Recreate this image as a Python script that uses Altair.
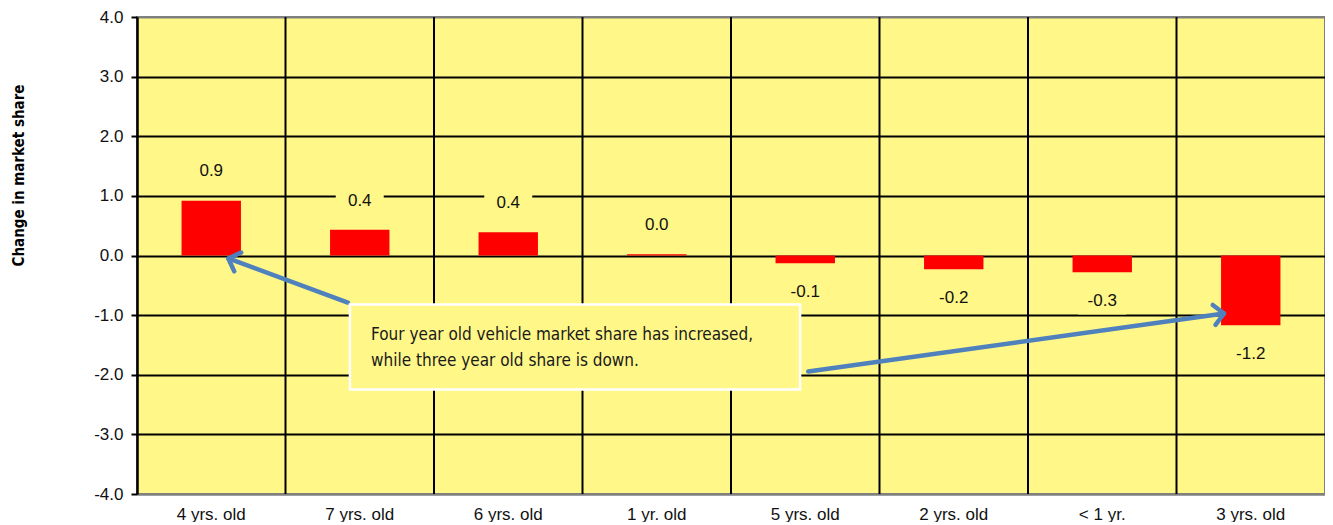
import altair as alt
import pandas as pd

# ---- data ----
categories = ["4 yrs. old", "7 yrs. old", "6 yrs. old", "1 yr. old",
              "5 yrs. old", "2 yrs. old", "< 1 yr.", "3 yrs. old"]
values = [0.92, 0.43, 0.39, 0.02, -0.13, -0.23, -0.28, -1.17]
y_ticks = [-4, -3, -2, -1, 0, 1, 2, 3, 4]

# annotation geometry (in a 0..8 category-unit x space, data units on y)
divider_x = [1, 2, 3, 4, 5, 6, 7]
arrow_x1 = [1.42, 4.52]
arrow_y1 = [-0.789, -1.946]
arrow_x2 = [0.615, 7.32]
arrow_y2 = [-0.050, -0.973]
arrow_angle = [200.3, 352.1]
note_box = {"x": 1.434, "x2": 4.465, "y": -0.822, "y2": -2.248}
note_lines = ["Four year old vehicle market share has increased,",
              "while three year old share is down."]
note_line_x = [1.576, 1.576]
note_line_y = [-1.326, -1.762]

PLOT_BG = "#FFF788"
BLUE = "#4F81BD"
FONT = "Liberation Sans"
NARROW = "DejaVu Sans Condensed"

df = pd.DataFrame({"cat": categories, "val": values})
df_div = pd.DataFrame({"x": divider_x})
df_arrow = pd.DataFrame({"x": arrow_x1, "y": arrow_y1, "x2": arrow_x2,
                         "y2": arrow_y2, "angle": arrow_angle})
df_box = pd.DataFrame([note_box])
df_note = pd.DataFrame({"t": note_lines, "x": note_line_x, "y": note_line_y})

W, H = 1188, 477

yscale = alt.Scale(domain=[-4, 4], nice=False, zero=False)
qx = alt.Scale(domain=[0, 8], nice=False, zero=False)
bandx = alt.Scale(paddingInner=0.6, paddingOuter=0.3)

grid_color = {"condition": {"test": "datum.value == 4 || datum.value == -4",
                            "value": "#808080"}, "value": "#000000"}

y_axis = alt.Axis(values=y_ticks,
                  labelExpr="replace(format(datum.value, '.1f'), '\u2212', '-')",
                  grid=True, gridColor=grid_color,
                  gridWidth=2, domainColor="#000000", domainWidth=2.5,
                  tickColor="#000000", tickWidth=2, tickSize=6,
                  labelFontSize=17, labelFont=FONT, labelColor="#111111",
                  labelPadding=8,
                  title="Change in market share", titleFont=NARROW,
                  titleFontSize=15, titleFontWeight="bold", titleColor="#000000",
                  titleAngle=270, titleAlign="center", titleBaseline="middle",
                  titleX=-119, titleY=158)

x_axis = alt.Axis(labelAngle=0, ticks=False, grid=False, domainColor="#808080",
                  domainWidth=2, labelFontSize=17, labelFont=FONT,
                  labelColor="#111111", labelPadding=12, title=None)

# vertical dividers (annotation x-space)
dividers = alt.Chart(df_div).mark_rule(color="#000000", strokeWidth=2).encode(
    x=alt.X("x:Q", scale=qx, axis=None),
)

bars = alt.Chart(df).mark_bar(color="#FF0000").encode(
    x=alt.X("cat:N", sort=categories, scale=bandx, axis=x_axis),
    y=alt.Y("val:Q", scale=yscale, axis=y_axis),
)

lab_base = alt.Chart(df).transform_calculate(
    ly="datum.val >= 0 ? datum.val + 0.49 : datum.val - 0.49",
    lt="replace(format(datum.val, '.1f'), '\u2212', '-')",
)
label_boxes = lab_base.mark_point(
    shape="M-1,-0.55H1V0.55H-1Z", size=2304, filled=True,
    fill=PLOT_BG, strokeWidth=0, opacity=1,
).encode(
    x=alt.X("cat:N", sort=categories, scale=bandx, axis=x_axis),
    y=alt.Y("ly:Q", scale=yscale),
)
labels = lab_base.mark_text(fontSize=17, font=FONT, color="#111111",
                            baseline="middle").encode(
    x=alt.X("cat:N", sort=categories, scale=bandx, axis=x_axis),
    y=alt.Y("ly:Q", scale=yscale),
    text="lt:N",
)

base = alt.layer(bars, label_boxes, labels)

shafts = alt.Chart(df_arrow).mark_rule(color=BLUE, strokeWidth=4.5,
                                       strokeCap="round").encode(
    x=alt.X("x:Q", scale=qx, axis=None),
    y=alt.Y("y:Q", scale=yscale),
    x2="x2:Q", y2="y2:Q",
)
heads = alt.Chart(df_arrow).mark_point(
    shape="M-1,-1L0,0L-1,1", size=400, filled=False, color=BLUE,
    strokeWidth=4.5, opacity=1, strokeCap="round", strokeJoin="round",
).encode(
    x=alt.X("x2:Q", scale=qx, axis=None),
    y=alt.Y("y2:Q", scale=yscale),
    angle=alt.Angle("angle:Q", scale=None),
)
box = alt.Chart(df_box).mark_rect(fill=PLOT_BG, stroke="#FFFFFF",
                                  strokeWidth=2.5).encode(
    x=alt.X("x:Q", scale=qx, axis=None), x2="x2:Q",
    y=alt.Y("y:Q", scale=yscale), y2="y2:Q",
)
note = alt.Chart(df_note).mark_text(align="left", baseline="middle",
                                    fontSize=17, font=NARROW,
                                    color="#1a1a1a").encode(
    x=alt.X("x:Q", scale=qx, axis=None),
    y=alt.Y("y:Q", scale=yscale),
    text="t:N",
)
ann = alt.layer(shafts, heads, box, note)

chart = alt.layer(dividers, base, ann).resolve_scale(x="independent").properties(
    width=W, height=H,
    padding={"left": 129, "top": 9, "right": 0, "bottom": 28},
    autosize=alt.AutoSizeParams(type="none"),
    background="#FFFFFF",
).configure_view(
    fill=PLOT_BG, stroke="#808080", strokeWidth=2,
)

chart.save("out.html", embed_options={"renderer": "svg", "actions": False})
